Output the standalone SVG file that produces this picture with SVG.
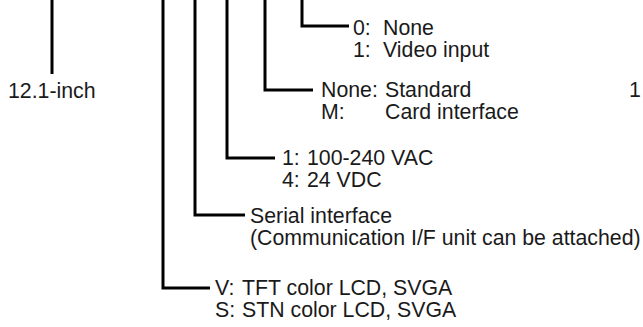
<svg xmlns="http://www.w3.org/2000/svg" width="643" height="327" viewBox="0 0 643 327">
<style>
.c{fill:none;stroke:#000;stroke-width:3}
text{font-family:"Liberation Sans",Arial,sans-serif;font-size:21.3px;fill:#1a1a1a}
</style>
<rect width="643" height="327" fill="#fff"/>
<g id="connectors">
<path class="c" d="M52 0V74"/>
<path class="c" d="M163 0V288H210"/>
<path class="c" d="M195 0V215H245"/>
<path class="c" d="M227 0V158H275"/>
<path class="c" d="M265 0V90H313"/>
<path class="c" d="M302 0V26H349"/>
</g>
<g id="size"><text x="8" y="98">12.1-inch</text></g>
<g id="video"><text x="353" y="35">0:</text><text x="383" y="35">None</text><text x="353" y="57">1:</text><text x="383" y="57">Video input</text></g>
<g id="card"><text x="321" y="97">None:</text><text x="385" y="97">Standard</text><text x="321" y="119">M:</text><text x="385" y="119">Card interface</text></g>
<g id="power"><text x="282" y="165">1:</text><text x="307" y="165">100-240 VAC</text><text x="282" y="187">4:</text><text x="307" y="187">24 VDC</text></g>
<g id="serial"><text x="250" y="223">Serial interface</text><text x="250" y="245">(Communication I/F unit can be attached)</text></g>
<g id="lcd"><text x="215" y="295">V:</text><text x="242" y="295">TFT color LCD, SVGA</text><text x="215" y="317">S:</text><text x="242" y="317">STN color LCD, SVGA</text></g>
<g id="edge"><text x="629" y="97">1</text></g>
</svg>
